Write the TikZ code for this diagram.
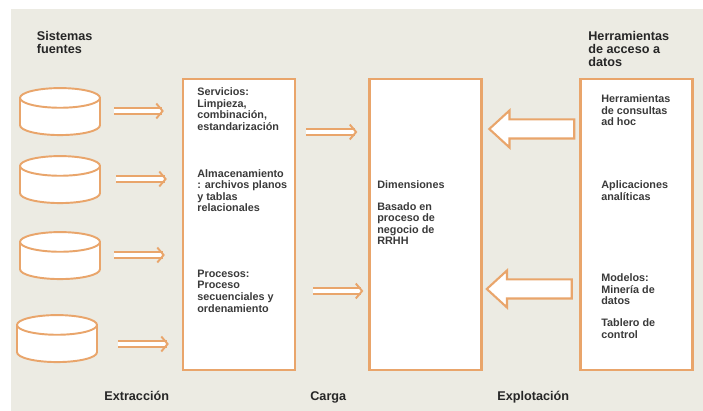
\documentclass[tikz,border=0pt]{standalone}
\usepackage{fontspec}
\setmainfont{Liberation Sans}
\usetikzlibrary{arrows.meta}
\usetikzlibrary{shapes.geometric}
\usetikzlibrary{shapes.arrows}
\definecolor{myorange}{HTML}{E9A56B}
\definecolor{mybg}{HTML}{ECEBE3}
\definecolor{mytext}{HTML}{3A3A3A}
\tikzset{
  mybox/.style={draw=myorange,fill=white,line width=1.3pt,minimum width=2.24cm,minimum height=5.82cm,inner sep=0pt},
  mydb/.style={draw=myorange,fill=white,line width=1.1pt,cylinder,shape border rotate=90,shape aspect=2.8,
               minimum width=1.6cm,minimum height=.94cm,inner sep=2pt},
  mylabel/.style={anchor=north west,align=left,inner sep=0pt,text=mytext,font=\fontsize{6.15}{6.6}\selectfont\bfseries},
  mytitle/.style={anchor=north west,align=left,inner sep=0pt,text=black!85,font=\fontsize{7.2}{7.5}\selectfont\bfseries},
  myarrow/.style={draw=myorange,double=white,line width=1.1pt,double distance=1.8pt,
                  -{Straight Barb[length=3.6pt,width=8.5pt,line width=1.1pt]},shorten >=#1},
  mybigarrow/.style={draw=myorange,fill=white,line width=1.2pt,single arrow,shape border rotate=180,
                     minimum height=1.7cm,minimum width=.7cm,text height=.34cm,text depth=0pt,
                     single arrow head extend=.18cm,single arrow tip angle=85,inner sep=0pt},
}

\begin{document}
\begin{tikzpicture}[x=.02cm,y=-.02cm]
  \useasboundingbox (0,0) rectangle (703,411);
  \fill[mybg] (11,9) rectangle (703,411);

  % sources
  \node[mydb] (db1) at (60,119) {};
  \node[mydb] (db2) at (60,187) {};
  \node[mydb] (db3) at (60,263) {};
  \node[mydb] (db4) at (57,346) {};

  % main boxes
  \node[mybox] (etl)  at (239,224.5) {};
  \node[mybox] (dim)  at (425.5,224.5) {};
  \node[mybox] (tool) at (636.5,224.5) {};

  % extraction
  \coordinate (e1) at (114,111);
  \coordinate (e2) at (116,179);
  \coordinate (e3) at (114,255);
  \coordinate (e4) at (118,344);
  \draw[myarrow=.36cm] (e1) -- (e1 -| etl.west);
  \draw[myarrow=.3cm]  (e2) -- (e2 -| etl.west);
  \draw[myarrow=.34cm] (e3) -- (e3 -| etl.west);
  \draw[myarrow=.26cm] (e4) -- (e4 -| etl.west);

  % load
  \coordinate (c1) at (306,132);
  \coordinate (c2) at (313,291);
  \draw[myarrow=.22cm] (c1) -- (c1 -| dim.west);
  \draw[myarrow=.1cm]  (c2) -- (c2 -| dim.west);

  % access
  \node[mybigarrow] (x1) at (537,129) {};
  \node[mybigarrow] (x2) at (534.5,289) {};

  % titles
  \node[mytitle] (fuentes) at (36.5,31) {Sistemas\\fuentes};
  \node[mytitle] (acceso)  at (588,31) {Herramientas\\de acceso a\\datos};
  \node[mytitle] (extr)    at (104,391) {Extracción};
  \node[mytitle] (carga)   at (310,391) {Carga};
  \node[mytitle] (explo)   at (497,391) {Explotación};

  % texts
  \node[mylabel] (t1) at (197,87.5)  {Servicios:\\Limpieza,\\combinación,\\estandarización};
  \node[mylabel] (t2) at (197,169)   {Almacenamiento\\: archivos planos\\y tablas\\relacionales};
  \node[mylabel] (t3) at (197,269.5) {Procesos:\\Proceso\\secuenciales y\\ordenamiento};
  \node[mylabel] (t4) at (377,180)   {Dimensiones};
  \node[mylabel] (t5) at (377,202)   {Basado en\\proceso de\\negocio de\\RRHH};
  \node[mylabel] (t6) at (601,94.5)  {Herramientas\\de consultas\\ad hoc};
  \node[mylabel] (t7) at (601,180.5) {Aplicaciones\\analíticas};
  \node[mylabel] (t8) at (601,273.5) {Modelos:\\Minería de\\datos};
  \node[mylabel] (t9) at (601,318.5) {Tablero de\\control};
\end{tikzpicture}
\end{document}
